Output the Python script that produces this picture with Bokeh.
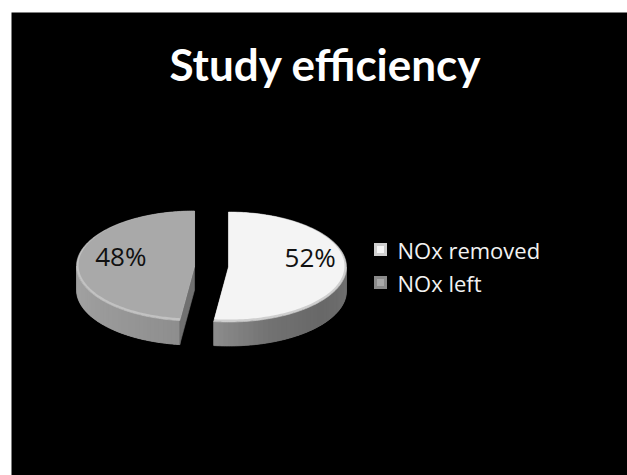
import numpy as np
from bokeh.plotting import figure
from bokeh.models import Range1d
from bokeh.core.properties import value
from bokeh.embed import file_html
from bokeh.resources import INLINE

# ---- data -------------------------------------------------------------
title_text = "Study efficiency"
categories = ["NOx removed", "NOx left"]
values = [52, 48]
top_colors = ["#f4f4f4", "#a9a9a9"]
rim_colors = ["#cfcfcf", "#c2c2c2"]
# side shading: (angle in degrees clockwise from 12 o'clock, gray level)
side_shades = [
    [(90, 0x70), (130, 0x68), (160, 0x72), (187.2, 0x8c)],
    [(187.2, 0x8e), (230, 0x9a), (270, 0xa4)],
]
cut_face_colors = ["#6c6c6c", "#707070"]
legend_outer = ["#cfcfcf", "#8a8a8a"]
legend_inner = ["#f6f6f6", "#a8a8a8"]

# ---- geometry of the 3-D pie (screen pixels) --------------------------
CX, CY = 211.0, 266.0
RX, RY = 118.0, 55.0
DEPTH = 24.0
EXPLODE = 17.0
BAND = 4.0

W, H = 627, 475
p = figure(width=W, height=H, output_backend="svg", toolbar_location=None,
           x_range=Range1d(11, W), y_range=Range1d(H, 12),
           min_border_left=11, min_border_top=12,
           min_border_right=0, min_border_bottom=0)
p.axis.visible = False
p.grid.visible = False
p.outline_line_color = None
p.background_fill_color = "black"
p.border_fill_color = "white"


def rim_pts(cx, cy, phis, rx=RX, ry=RY, dy=0.0):
    return cx + rx * np.sin(phis), cy - ry * np.cos(phis) + dy


def gray(level):
    level = int(round(max(0, min(255, level))))
    return "#{0:02x}{0:02x}{0:02x}".format(level)


total = float(sum(values))
angles = np.concatenate([[0.0], np.cumsum(values) / total * 2 * np.pi])

labels_xy = []
for i, v in enumerate(values):
    a0, a1 = angles[i], angles[i + 1]
    mid = 0.5 * (a0 + a1)
    cx = CX + EXPLODE * np.sin(mid)
    cy = CY - EXPLODE * np.cos(mid) * (RY / RX)

    # outer side wall, only the part facing the viewer
    s0, s1 = max(a0, np.pi / 2), min(a1, 3 * np.pi / 2)
    if s1 > s0:
        stops = side_shades[i]
        sa = np.radians([s[0] for s in stops])
        sl = [s[1] for s in stops]
        # whole wall in a mid tone underneath, so no seams show between strips
        ph_all = np.linspace(s0, s1, 120)
        xt, yt = rim_pts(cx, cy, ph_all)
        xb, yb = rim_pts(cx, cy, ph_all[::-1], dy=DEPTH)
        base = gray(np.mean(sl))
        p.patch(np.concatenate([xt, xb]), np.concatenate([yt, yb]),
                fill_color=base, line_color=base, line_width=0.8)
        n = 40
        edges = np.linspace(s0, s1, n + 1)
        xs_list, ys_list, cols = [], [], []
        for k in range(n):
            ph = np.linspace(edges[k], edges[k + 1] + (0.01 if k < n - 1 else 0), 4)
            xt, yt = rim_pts(cx, cy, ph)
            xb, yb = rim_pts(cx, cy, ph[::-1], dy=DEPTH)
            xs_list.append(np.concatenate([xt, xb]))
            ys_list.append(np.concatenate([yt, yb]))
            cols.append(gray(np.interp(0.5 * (edges[k] + edges[k + 1]), sa, sl)))
        p.patches(xs_list, ys_list, fill_color=cols, line_color=None)

    # radial cut faces that turn toward the viewer
    for a, normal in ((a0, a0 - np.pi / 2), (a1, a1 + np.pi / 2)):
        if np.cos(normal) < -0.05:
            rx_, ry_ = rim_pts(cx, cy, np.array([a]))
            fx = [cx, rx_[0], rx_[0], cx]
            fy = [cy, ry_[0], ry_[0] + DEPTH, cy + DEPTH]
            p.patch(fx, fy, fill_color=cut_face_colors[i], line_color=cut_face_colors[i],
                    line_width=0.6)

    # top face with a shaded rim band
    ph = np.linspace(a0, a1, 180)
    xt, yt = rim_pts(cx, cy, ph)
    p.patch(np.concatenate([[cx], xt]), np.concatenate([[cy], yt]),
            fill_color=rim_colors[i], line_color=rim_colors[i], line_width=0.6)
    shrink = BAND * (0.5 - 0.5 * np.cos(ph))
    xi, yi = rim_pts(cx, cy, ph, rx=RX - shrink, ry=RY - 0.6 * shrink)
    p.patch(np.concatenate([[cx], xi]), np.concatenate([[cy], yi]),
            fill_color=top_colors[i], line_color=None)

    lx = cx + 0.66 * RX * np.sin(mid) + 4
    ly = cy - 10
    labels_xy.append((lx, ly, f"{v}%"))

p.text(x=[t[0] for t in labels_xy], y=[t[1] for t in labels_xy],
       text=[t[2] for t in labels_xy], text_align="center", text_baseline="middle",
       text_color="#111111", text_font=value("Open Sans"), text_font_size="26px")

# title
p.text(x=[325], y=[63], text=[title_text], text_align="center",
       text_baseline="middle", text_color="white",
       text_font=value("Lato"), text_font_style="bold", text_font_size="44px")

# legend
leg_x, leg_y0, leg_dy = 380.0, 249.0, 33.0
leg_ys = [leg_y0 + k * leg_dy for k in range(len(categories))]
p.rect(x=[leg_x] * len(categories), y=leg_ys, width=13, height=13,
       fill_color=legend_outer, line_color=None)
p.rect(x=[leg_x] * len(categories), y=leg_ys, width=7, height=7,
       fill_color=legend_inner, line_color=None)
p.text(x=[leg_x + 17] * len(categories), y=leg_ys, text=categories,
       text_align="left", text_baseline="middle", text_color="#f2f2f2",
       text_font=value("Open Sans"), text_font_size="22px")

open("out.html", "w").write(file_html(p, INLINE))
